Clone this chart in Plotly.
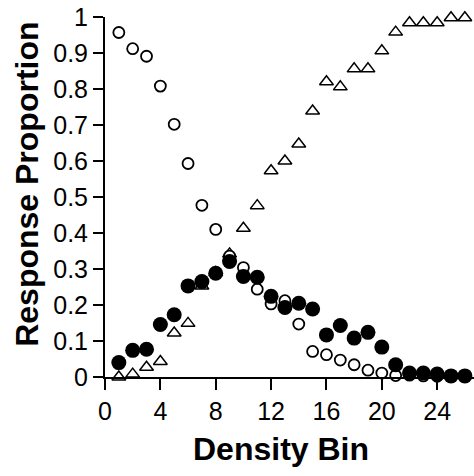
import plotly.graph_objects as go

bins = list(range(1, 27))
open_circles = [0.957, 0.912, 0.891, 0.808, 0.702, 0.593, 0.477, 0.410, 0.336, 0.304,
                0.244, 0.203, 0.212, 0.147, 0.071, 0.062, 0.047, 0.034, 0.019, 0.011,
                0.004, 0.005, 0.003, 0.002, 0.001, 0.001]
filled_circles = [0.040, 0.074, 0.077, 0.146, 0.173, 0.253, 0.265, 0.288, 0.321, 0.279,
                  0.277, 0.224, 0.193, 0.205, 0.189, 0.117, 0.143, 0.108, 0.124, 0.083,
                  0.034, 0.011, 0.011, 0.008, 0.003, 0.003]
triangles = [0.000, 0.008, 0.027, 0.043, 0.122, 0.149, 0.253, 0.290, 0.342, 0.413,
             0.476, 0.573, 0.600, 0.647, 0.739, 0.820, 0.806, 0.856, 0.856, 0.906,
             0.958, 0.984, 0.984, 0.984, 0.998, 0.998]
x_ticks = [0, 4, 8, 12, 16, 20, 24]
y_ticks = [0, 0.1, 0.2, 0.3, 0.4, 0.5, 0.6, 0.7, 0.8, 0.9, 1]
x_title = "Density Bin"
y_title = "Response Proportion"

FONT = "Arial, Liberation Sans, sans-serif"

fig = go.Figure()
fig.add_trace(go.Scatter(
    x=bins, y=triangles, mode="markers", cliponaxis=False,
    marker=dict(symbol="triangle-up", size=12, color="white",
                line=dict(color="black", width=1.5)),
))
fig.add_trace(go.Scatter(
    x=bins, y=open_circles, mode="markers", cliponaxis=False,
    marker=dict(symbol="circle", size=11, color="white",
                line=dict(color="black", width=1.8)),
))
fig.add_trace(go.Scatter(
    x=bins, y=filled_circles, mode="markers", cliponaxis=False,
    marker=dict(symbol="circle", size=15, color="black",
                line=dict(color="black", width=0)),
))

fig.update_layout(
    width=474, height=476,
    margin=dict(l=105, r=0, t=17, b=99),
    paper_bgcolor="white", plot_bgcolor="white",
    showlegend=False,
    font=dict(family=FONT, color="black"),
    xaxis=dict(
        range=[0, 26.66], tickvals=x_ticks, ticktext=[str(v) for v in x_ticks],
        showgrid=False, zeroline=False, showline=True, linecolor="black", linewidth=2,
        ticks="outside", ticklen=11, tickwidth=2, tickcolor="black",
        tickfont=dict(size=25, family=FONT),
    ),
    yaxis=dict(
        range=[0, 1], tickvals=y_ticks, ticktext=[("%g" % v) for v in y_ticks],
        showgrid=False, zeroline=False, showline=True, linecolor="black", linewidth=2,
        ticks="outside", ticklen=10, tickwidth=2, tickcolor="black",
        tickfont=dict(size=25, family=FONT),
    ),
    annotations=[
        dict(text="<b>%s</b>" % x_title, xref="paper", yref="paper", x=0.478, y=-0.2,
             xanchor="center", yanchor="middle", showarrow=False,
             font=dict(size=32, family=FONT, color="black")),
        dict(text="<b>%s</b>" % y_title, xref="paper", yref="paper", x=-0.212, y=0.536,
             xanchor="center", yanchor="middle", showarrow=False, textangle=-90,
             font=dict(size=32, family=FONT, color="black")),
    ],
)

fig.write_html("out.html")
